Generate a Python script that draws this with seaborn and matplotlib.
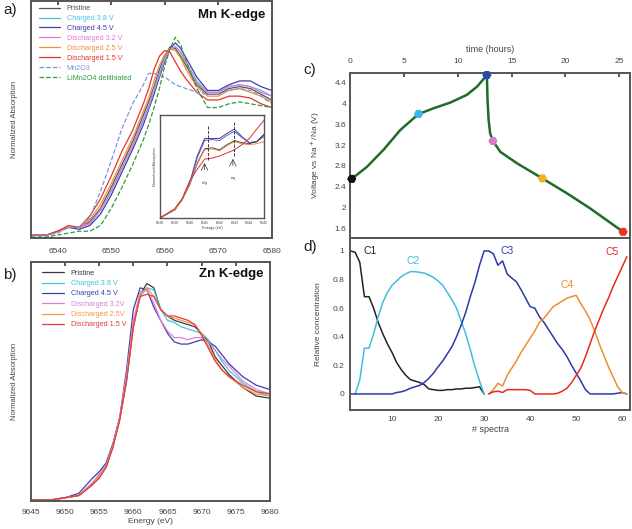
import numpy as np
import matplotlib
matplotlib.use("Agg")
import matplotlib.pyplot as plt
from matplotlib.ticker import FormatStrFormatter
import seaborn as sns
import pandas as pd

sns.set_theme(style="white")
plt.rcParams['font.family'] = ['Liberation Sans', 'DejaVu Sans']

# a) Mn K-edge XANES (normalized absorption)
mn_energy = [6535, 6538, 6540, 6542, 6544, 6546, 6548, 6550, 6552, 6554, 6556, 6557, 6558, 6559,
             6560, 6561, 6562, 6563, 6564, 6566, 6568, 6570, 6572, 6574, 6576, 6578, 6580]
mn_pristine = [0.00, 0.00, 0.02, 0.04, 0.04, 0.07, 0.14, 0.25, 0.37, 0.49, 0.63, 0.70, 0.78, 0.87,
               0.94, 0.99, 0.98, 0.94, 0.89, 0.79, 0.74, 0.74, 0.77, 0.78, 0.77, 0.74, 0.71]
mn_ch38 = [0.00, 0.00, 0.02, 0.04, 0.04, 0.06, 0.13, 0.23, 0.35, 0.47, 0.61, 0.68, 0.77, 0.85,
           0.93, 0.98, 0.99, 0.96, 0.91, 0.81, 0.75, 0.75, 0.78, 0.79, 0.78, 0.76, 0.73]
mn_ch45 = [0.00, 0.00, 0.02, 0.04, 0.03, 0.05, 0.11, 0.21, 0.33, 0.45, 0.58, 0.66, 0.74, 0.83,
           0.91, 0.98, 1.01, 0.98, 0.93, 0.83, 0.76, 0.76, 0.79, 0.81, 0.81, 0.78, 0.76]
mn_dis32 = [0.00, 0.00, 0.02, 0.04, 0.04, 0.06, 0.13, 0.23, 0.35, 0.47, 0.60, 0.67, 0.76, 0.84,
            0.92, 0.98, 0.99, 0.96, 0.91, 0.80, 0.75, 0.75, 0.78, 0.79, 0.78, 0.75, 0.73]
mn_dis25 = [0.00, 0.00, 0.02, 0.04, 0.04, 0.08, 0.16, 0.27, 0.39, 0.51, 0.65, 0.72, 0.81, 0.89,
            0.95, 0.98, 0.97, 0.93, 0.87, 0.78, 0.73, 0.73, 0.76, 0.77, 0.75, 0.73, 0.70]
mn_dis15 = [0.00, 0.00, 0.02, 0.05, 0.04, 0.10, 0.19, 0.31, 0.44, 0.55, 0.69, 0.77, 0.87, 0.94,
            0.97, 0.96, 0.91, 0.86, 0.82, 0.75, 0.71, 0.71, 0.73, 0.73, 0.72, 0.69, 0.67]
mn_mn2o3 = [0.00, 0.00, 0.01, 0.04, 0.04, 0.09, 0.23, 0.39, 0.56, 0.69, 0.79, 0.85, 0.85, 0.84,
            0.83, 0.81, 0.79, 0.78, 0.77, 0.75, 0.74, 0.74, 0.76, 0.77, 0.76, 0.73, 0.69]
mn_limn2o4 = [-0.01, -0.01, 0.00, 0.01, 0.02, 0.02, 0.05, 0.14, 0.25, 0.37, 0.50, 0.58, 0.67, 0.77,
              0.89, 0.98, 1.04, 1.00, 0.91, 0.77, 0.67, 0.67, 0.69, 0.70, 0.69, 0.68, 0.67]
mn_labels = ['Pristine', 'Charged 3.8 V', 'Charged 4.5 V', 'Discharged 3.2 V', 'Discharged 2.5 V',
             'Discharged 1.5 V', 'Mn2O3', 'LiMn2O4 delithiated']
mn_colors = ['#555555', '#3fc6e6', '#3b3fa8', '#e07ad0', '#f0903a', '#e83232', '#7a98d8', '#2e9e3a']

# inset: pre-edge zoom
ins_energy = [6538, 6539, 6539.5, 6540, 6540.5, 6541, 6541.5, 6542, 6542.5, 6543, 6543.5, 6544, 6544.5, 6545]
ins_ch45 = [0.00, 0.08, 0.18, 0.34, 0.60, 0.77, 0.77, 0.77, 0.82, 0.86, 0.79, 0.73, 0.74, 0.81]
ins_ch38 = [0.00, 0.08, 0.18, 0.33, 0.58, 0.75, 0.76, 0.75, 0.80, 0.84, 0.78, 0.73, 0.74, 0.79]
ins_pristine = [0.00, 0.08, 0.18, 0.32, 0.53, 0.67, 0.68, 0.66, 0.71, 0.75, 0.73, 0.72, 0.74, 0.81]
ins_dis25 = [0.00, 0.08, 0.18, 0.32, 0.52, 0.66, 0.67, 0.65, 0.70, 0.74, 0.72, 0.71, 0.72, 0.74]
ins_dis15 = [0.00, 0.09, 0.19, 0.36, 0.47, 0.57, 0.58, 0.60, 0.63, 0.66, 0.71, 0.77, 0.86, 0.95]
ins_colors = ['#3b3fa8', '#6a5cc0', '#444444', '#e8904a', '#e03030']

# b) Zn K-edge XANES
zn_energy = [9645, 9648, 9650, 9652, 9654, 9655, 9656, 9657, 9658, 9659, 9660, 9661, 9662, 9663,
             9664, 9665, 9666, 9667, 9668, 9669, 9670, 9671, 9672, 9673, 9674, 9676, 9678, 9680]
zn_pristine = [0.00, 0.00, 0.01, 0.02, 0.07, 0.11, 0.15, 0.25, 0.37, 0.55, 0.80, 0.95, 1.00, 0.98,
               0.88, 0.85, 0.83, 0.82, 0.81, 0.80, 0.77, 0.73, 0.66, 0.62, 0.58, 0.52, 0.48, 0.47]
zn_ch38 = [0.00, 0.00, 0.01, 0.02, 0.07, 0.11, 0.16, 0.25, 0.38, 0.56, 0.81, 0.94, 0.98, 0.97,
           0.88, 0.83, 0.82, 0.80, 0.79, 0.78, 0.77, 0.74, 0.69, 0.64, 0.60, 0.54, 0.50, 0.48]
zn_ch45 = [0.00, 0.00, 0.01, 0.03, 0.10, 0.13, 0.17, 0.26, 0.38, 0.60, 0.88, 0.98, 0.97, 0.89,
           0.83, 0.77, 0.73, 0.72, 0.72, 0.73, 0.74, 0.73, 0.71, 0.67, 0.63, 0.57, 0.53, 0.51]
zn_dis32 = [0.00, 0.00, 0.01, 0.02, 0.08, 0.12, 0.16, 0.25, 0.38, 0.58, 0.83, 0.96, 0.97, 0.91,
            0.83, 0.78, 0.75, 0.75, 0.74, 0.75, 0.75, 0.73, 0.69, 0.65, 0.62, 0.55, 0.51, 0.49]
zn_dis25 = [0.00, 0.00, 0.01, 0.02, 0.07, 0.11, 0.15, 0.25, 0.37, 0.56, 0.81, 0.95, 0.98, 0.94,
            0.88, 0.85, 0.84, 0.83, 0.82, 0.81, 0.77, 0.71, 0.65, 0.60, 0.57, 0.52, 0.49, 0.48]
zn_dis15 = [0.00, 0.00, 0.01, 0.02, 0.07, 0.10, 0.15, 0.24, 0.37, 0.55, 0.80, 0.94, 0.95, 0.94,
            0.88, 0.85, 0.85, 0.84, 0.83, 0.81, 0.76, 0.70, 0.64, 0.60, 0.57, 0.53, 0.50, 0.49]
zn_labels = ['Pristine', 'Charged 3.8 V', 'Charged 4.5 V', 'Discharged 3.2V', 'Discharged 2.5V',
             'Discharged 1.5 V']
zn_colors = ['#3a3a3a', '#40c4e4', '#3a3fae', '#dd80d8', '#f39a4a', '#e8383a']

# c) voltage profile
time_h = [0.15, 1.55, 3.1, 4.65, 6.35, 7.75, 9.3, 10.85, 11.8, 12.7, 12.76, 12.86, 13.0, 13.26,
          13.95, 15.5, 17.85, 20.15, 22.3, 25.35]
voltage = [2.55, 2.78, 3.11, 3.49, 3.80, 3.91, 4.02, 4.17, 4.33, 4.55, 4.07, 3.69, 3.43, 3.28,
           3.07, 2.85, 2.56, 2.27, 1.98, 1.53]
mark_t = [0.15, 6.35, 12.7, 13.26, 17.85, 25.35]
mark_v = [2.55, 3.80, 4.55, 3.28, 2.56, 1.53]
mark_names = ['pristine', 'ch38', 'ch45', 'dis32', 'dis25', 'dis15']
mark_colors = ['#111111', '#3ab6e8', '#2a4aa8', '#d47cc8', '#f5b02a', '#ee3322']

# d) MCR concentration profiles
c1_x = list(range(1, 31))
c1_y = [1.0, 0.99, 0.92, 0.68, 0.68, 0.60, 0.50, 0.42, 0.35, 0.29, 0.22, 0.17, 0.13, 0.10, 0.09,
        0.08, 0.065, 0.035, 0.03, 0.025, 0.025, 0.03, 0.03, 0.035, 0.035, 0.04, 0.04, 0.045, 0.05, 0.0]
c2_x = list(range(2, 31))
c2_y = [0.0, 0.10, 0.32, 0.32, 0.42, 0.54, 0.64, 0.71, 0.76, 0.79, 0.82, 0.84, 0.855, 0.855, 0.85,
        0.845, 0.83, 0.815, 0.79, 0.76, 0.71, 0.66, 0.60, 0.51, 0.42, 0.31, 0.19, 0.09, 0.0]
c3_x = list(range(1, 62))
c3_y = [0.0, 0.0, 0.0, 0.0, 0.0, 0.0, 0.0, 0.0, 0.0, 0.0, 0.01, 0.015, 0.025, 0.04, 0.05, 0.06,
        0.08, 0.11, 0.145, 0.19, 0.23, 0.28, 0.33, 0.40, 0.48, 0.57, 0.68, 0.78, 0.90, 1.0, 1.0,
        0.98, 0.90, 0.93, 0.84, 0.81, 0.785, 0.73, 0.67, 0.61, 0.60, 0.54, 0.50, 0.45, 0.40, 0.35,
        0.31, 0.26, 0.20, 0.145, 0.09, 0.03, 0.0, 0.0, 0.0, 0.0, 0.0, 0.0, 0.005, 0.01, 0.0]
c4_x = list(range(31, 62))
c4_y = [0.0, 0.03, 0.075, 0.055, 0.13, 0.18, 0.23, 0.29, 0.34, 0.39, 0.44, 0.50, 0.53, 0.57, 0.61,
        0.63, 0.65, 0.67, 0.68, 0.69, 0.63, 0.58, 0.52, 0.44, 0.35, 0.27, 0.19, 0.12, 0.05, 0.01, 0.0]
c5_x = list(range(31, 62))
c5_y = [0.0, 0.015, 0.02, 0.01, 0.03, 0.03, 0.03, 0.03, 0.03, 0.025, 0.0, 0.0, 0.0, 0.0, 0.0,
        0.005, 0.02, 0.04, 0.08, 0.13, 0.18, 0.26, 0.35, 0.44, 0.52, 0.60, 0.67, 0.75, 0.82, 0.89, 0.96]
comp_names = ['C1', 'C2', 'C3', 'C4', 'C5']
comp_colors = ['#222222', '#3cc0e0', '#2c3aa8', '#f08c30', '#e82a20']
comp_label_pos = [(3.7, 1.0), (13.2, 0.93), (33.5, 1.0), (46.5, 0.76), (56.3, 0.99)]

frame_col = '#555555'
tick_col = '#444444'


def style_frame(ax, lw=1.4):
    for sp in ax.spines.values():
        sp.set_color(frame_col)
        sp.set_linewidth(lw)


fig = plt.figure(figsize=(6.32, 5.29), dpi=100)

# ---------- a)
ax_a = fig.add_axes([0.049, 0.550, 0.381, 0.448])
mn_series = [mn_pristine, mn_ch38, mn_ch45, mn_dis32, mn_dis25, mn_dis15, mn_mn2o3, mn_limn2o4]
for i, (yy, lab, col) in enumerate(zip(mn_series, mn_labels, mn_colors)):
    ls = '--' if i >= 6 else '-'
    sns.lineplot(x=mn_energy, y=yy, ax=ax_a, color=col, label=lab, linewidth=0.9, linestyle=ls)
ax_a.set_xlim(6535, 6580)
ax_a.set_ylim(-0.016, 1.23)
ax_a.set_xticks([6540, 6550, 6560, 6570, 6580])
ax_a.set_yticks([])
ax_a.tick_params(axis='x', labelsize=6, colors=tick_col, direction='in', length=3, top=True, pad=7)
ax_a.set_ylabel('Normalized Absorption', fontsize=5.5, color=tick_col, labelpad=9)
style_frame(ax_a)
ax_a.text(0.975, 0.965, 'Mn K-edge', transform=ax_a.transAxes, ha='right', va='top',
          fontsize=9.5, fontweight='bold', color='#111111')
ax_a.legend(loc='upper left', bbox_to_anchor=(0.015, 1.0), frameon=False, fontsize=5.2,
            labelspacing=0.4, handlelength=3.0, handletextpad=0.9, borderaxespad=0.15,
            labelcolor='linecolor')

# inset
ax_i = fig.add_axes([0.253, 0.588, 0.165, 0.195])
ins_series = [ins_ch45, ins_ch38, ins_pristine, ins_dis25, ins_dis15]
for yy, col in zip(ins_series, ins_colors):
    sns.lineplot(x=ins_energy, y=yy, ax=ax_i, color=col, linewidth=0.7)
ax_i.set_xlim(6538, 6545)
ax_i.set_ylim(0, 1.0)
ax_i.set_xticks(range(6538, 6546))
ax_i.set_yticks([])
ax_i.tick_params(axis='x', labelsize=2.6, colors=tick_col, direction='in', length=1.5, pad=2)
ax_i.set_xlabel('Energy (eV)', fontsize=2.8, color=tick_col, labelpad=1)
ax_i.set_ylabel('Normalized Absorption', fontsize=2.8, color=tick_col, labelpad=2)
style_frame(ax_i, lw=1.0)
ax_i.plot([6541.2, 6541.2], [0.56, 0.90], color='#222222', lw=0.6, ls='--')
ax_i.plot([6543.0, 6543.0], [0.60, 0.94], color='#222222', lw=0.6, ls='--')
ax_i.annotate('', xy=(6541.0, 0.56), xytext=(6541.0, 0.44),
              arrowprops=dict(arrowstyle='->', lw=0.5, color='#333333'))
ax_i.annotate('', xy=(6542.9, 0.60), xytext=(6542.9, 0.48),
              arrowprops=dict(arrowstyle='->', lw=0.5, color='#333333'))
ax_i.text(6541.0, 0.33, 't$_{2g}$', fontsize=3.2, ha='center', va='center', color='#333333')
ax_i.text(6542.9, 0.38, 'e$_g$', fontsize=3.2, ha='center', va='center', color='#333333')

# ---------- b)
ax_b = fig.add_axes([0.049, 0.053, 0.378, 0.452])
zn_series = [zn_pristine, zn_ch38, zn_ch45, zn_dis32, zn_dis25, zn_dis15]
for yy, lab, col in zip(zn_series, zn_labels, zn_colors):
    sns.lineplot(x=zn_energy, y=yy, ax=ax_b, color=col, label=lab, linewidth=0.9)
ax_b.set_xlim(9645, 9680)
ax_b.set_ylim(-0.005, 1.10)
ax_b.set_xticks(range(9645, 9681, 5))
ax_b.set_yticks([])
ax_b.tick_params(axis='x', labelsize=6, colors=tick_col, direction='in', length=3, top=True, pad=6)
ax_b.set_ylabel('Normalized Absorption', fontsize=5.5, color=tick_col, labelpad=9)
ax_b.set_xlabel('Energy (eV)', fontsize=6, color=tick_col, labelpad=1)
style_frame(ax_b)
ax_b.text(0.975, 0.975, 'Zn K-edge', transform=ax_b.transAxes, ha='right', va='top',
          fontsize=9.5, fontweight='bold', color='#111111')
ax_b.legend(loc='upper left', bbox_to_anchor=(0.03, 0.985), frameon=False, fontsize=5.2,
            labelspacing=0.45, handlelength=3.0, handletextpad=0.9, borderaxespad=0.2,
            labelcolor='linecolor')

# ---------- c)
ax_c = fig.add_axes([0.554, 0.550, 0.443, 0.312])
sns.lineplot(x=time_h, y=voltage, ax=ax_c, color='#1f6b2a', linewidth=1.8, sort=False)
sns.scatterplot(x=mark_t, y=mark_v, hue=mark_names, palette=mark_colors, ax=ax_c, legend=False,
                s=45, marker='H', edgecolor='none', zorder=5, clip_on=False)
ax_c.set_xlim(0, 26)
ax_c.set_ylim(1.41, 4.59)
ax_c.xaxis.tick_top()
ax_c.xaxis.set_label_position('top')
ax_c.set_xticks([0, 5, 10, 15, 20, 25])
ax_c.set_yticks(np.arange(1.6, 4.5, 0.4))
ax_c.yaxis.set_major_formatter(FormatStrFormatter('%g'))
ax_c.tick_params(labelsize=6, colors=tick_col, direction='in', length=3, pad=3)
ax_c.tick_params(axis='x', pad=6)
ax_c.set_xlabel('time (hours)', fontsize=6.5, color=tick_col, labelpad=4)
ax_c.set_ylabel('Voltage vs Na$^+$/Na (V)', fontsize=6, color=tick_col, labelpad=9)
style_frame(ax_c)

# ---------- d)
ax_d = fig.add_axes([0.554, 0.225, 0.443, 0.325])
comp_x = [c1_x, c2_x, c3_x, c4_x, c5_x]
comp_y = [c1_y, c2_y, c3_y, c4_y, c5_y]
for xx, yy, col in zip(comp_x, comp_y, comp_colors):
    sns.lineplot(x=xx, y=yy, ax=ax_d, color=col, linewidth=1.1)
for name, col, (px, py) in zip(comp_names, comp_colors, comp_label_pos):
    ax_d.text(px, py, name, color=col, fontsize=7.5, ha='left', va='center')
ax_d.set_xlim(0.9, 61.7)
ax_d.set_ylim(-0.112, 1.09)
ax_d.set_xticks([10, 20, 30, 40, 50, 60])
ax_d.set_yticks([0, 0.2, 0.4, 0.6, 0.8, 1.0])
ax_d.yaxis.set_major_formatter(FormatStrFormatter('%g'))
ax_d.tick_params(labelsize=6, colors=tick_col, direction='in', length=3, pad=4)
ax_d.set_xlabel('# spectra', fontsize=6.5, color=tick_col, labelpad=2)
ax_d.set_ylabel('Relative concentration', fontsize=6, color=tick_col, labelpad=8)
style_frame(ax_d)

# panel letters
fig.text(0.005, 0.995, 'a)', fontsize=11, va='top', ha='left', color='#222222')
fig.text(0.005, 0.493, 'b)', fontsize=11, va='top', ha='left', color='#222222')
fig.text(0.480, 0.880, 'c)', fontsize=11, va='top', ha='left', color='#222222')
fig.text(0.480, 0.547, 'd)', fontsize=11, va='top', ha='left', color='#222222')

fig.savefig('out.png', dpi=100)
